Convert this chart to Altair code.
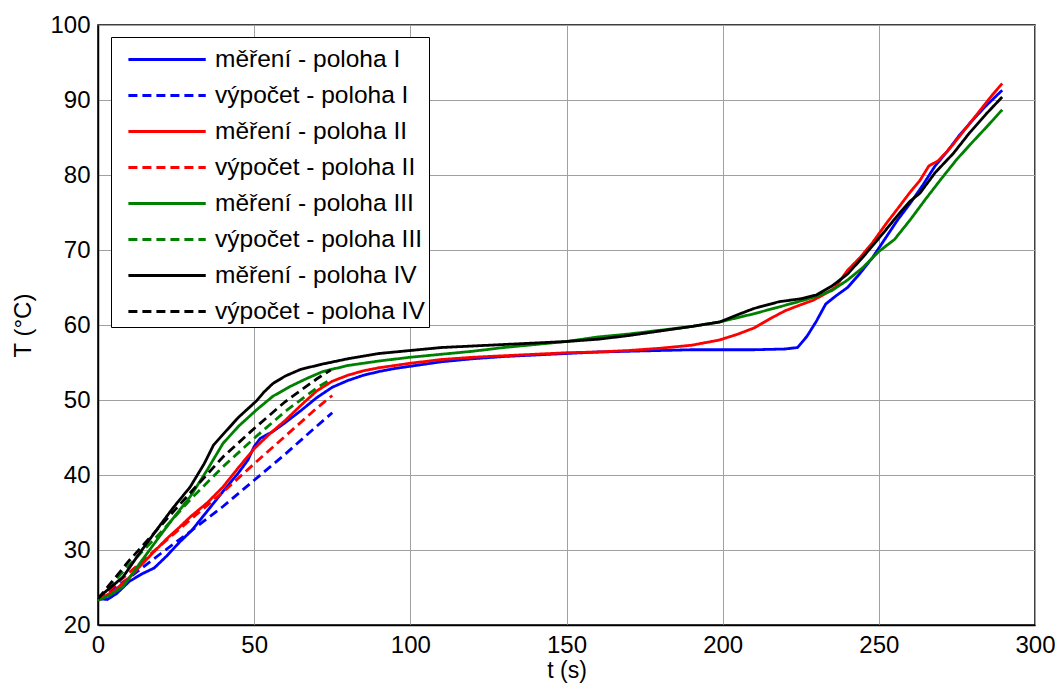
import altair as alt
import pandas as pd

# ---- data ----
names = ["měření - poloha I", "výpočet - poloha I",
         "měření - poloha II", "výpočet - poloha II",
         "měření - poloha III", "výpočet - poloha III",
         "měření - poloha IV", "výpočet - poloha IV"]
colors = ["#0000ff", "#0000ff", "#ff0000", "#ff0000",
          "#008000", "#008000", "#000000", "#000000"]

t_mer_I = [0, 3, 6, 10, 14, 18, 22, 26, 30, 35, 40, 45, 48, 50, 52, 56, 60, 65, 70, 75, 80, 85, 90, 95,
           100, 110, 120, 130, 140, 150, 160, 170, 180, 190, 200, 210, 220, 224, 227, 230, 233, 236, 240,
           244, 248, 252, 256, 260, 264, 268, 272, 276, 280, 284, 287, 289.5]
T_mer_I = [23.5, 23.4, 24.2, 25.8, 26.8, 27.6, 29.2, 31.0, 32.6, 35.2, 37.8, 40.3, 42.0, 43.8, 44.9, 45.8,
           47.0, 48.6, 50.3, 51.7, 52.6, 53.3, 53.8, 54.2, 54.5, 55.1, 55.5, 55.8, 56.0, 56.2, 56.4, 56.5,
           56.6, 56.7, 56.7, 56.7, 56.8, 57.0, 58.5, 60.5, 62.8, 63.8, 65.0, 66.9, 69.0, 71.5, 74.0, 76.2,
           78.6, 81.2, 83.2, 85.4, 87.3, 89.1, 90.3, 91.3]

t_vyp_I = [0, 10, 20, 30, 40, 50, 60, 70, 75]
T_vyp_I = [23.3, 26.3, 29.5, 32.6, 35.8, 39.3, 42.8, 46.5, 48.3]

t_mer_II = [0, 5, 10, 13.4, 18, 22, 26, 29.5, 35, 40, 45, 50, 55, 60, 65, 70, 75, 80, 85, 90, 95, 100,
            110, 120, 130, 140, 150, 160, 170, 180, 190, 199, 205, 210, 215, 220, 225, 229, 233, 236, 240,
            244, 248, 252.5, 256, 260, 263.2, 266, 269, 272, 274, 278, 282, 286, 289.5]
T_mer_II = [23.3, 24.5, 26.3, 27.8, 29.8, 31.5, 33.0, 34.4, 36.3, 38.4, 41.0, 43.5, 45.5, 47.3, 49.3,
            51.2, 52.5, 53.3, 53.9, 54.3, 54.6, 54.9, 55.4, 55.7, 55.9, 56.1, 56.3, 56.4, 56.6, 56.9, 57.3,
            58.0, 58.8, 59.6, 60.8, 61.9, 62.7, 63.3, 64.2, 65.0, 67.3, 69.0, 71.0, 73.6, 75.5, 77.7, 79.3,
            81.2, 81.9, 83.2, 84.2, 86.3, 88.4, 90.5, 92.2]

t_vyp_II = [0, 10, 20, 30, 40, 50, 60, 70, 75]
T_vyp_II = [23.3, 27.0, 30.6, 34.2, 37.7, 41.5, 45.2, 48.9, 50.6]

t_mer_III = [0, 4, 8, 13, 18.8, 24, 29.5, 35, 40, 45, 50.8, 56, 61.5, 67, 72, 80, 90, 100, 110, 120,
             130, 140, 150, 160, 170, 180, 190, 199, 210, 218, 225, 230, 235, 240, 245, 250, 255, 260,
             265, 270, 275, 280, 284.5, 289.5]
T_mer_III = [23.3, 24.0, 25.1, 28.0, 31.3, 34.2, 37.1, 40.7, 44.2, 46.5, 48.7, 50.5, 51.8, 52.9, 53.8,
             54.6, 55.2, 55.7, 56.1, 56.5, 57.0, 57.4, 57.8, 58.4, 58.8, 59.3, 59.8, 60.4, 61.5, 62.4,
             63.2, 63.8, 64.6, 66.0, 67.7, 69.8, 71.4, 74.0, 76.8, 79.5, 82.1, 84.4, 86.4, 88.7]

t_vyp_III = [0, 10, 20, 29.5, 40, 50, 60, 70, 73.5]
T_vyp_III = [23.5, 28.0, 32.3, 36.7, 41.1, 44.9, 48.5, 51.6, 52.5]

t_mer_IV = [0, 4, 8, 13, 18.8, 24, 29.5, 34, 37, 40, 45, 50.8, 53, 56, 60, 65, 72, 80, 90, 100, 110,
            120, 130, 140, 150, 160, 170, 180, 190, 199, 205, 210, 218, 225, 230, 235, 240, 245, 251.5,
            256, 260, 263.2, 268, 273.9, 279, 284.5, 289.5]
T_mer_IV = [23.6, 25.0, 26.4, 29.4, 32.7, 35.6, 38.4, 41.5, 44.0, 45.4, 47.7, 49.9, 51.0, 52.2, 53.2,
            54.1, 54.8, 55.5, 56.2, 56.6, 57.0, 57.2, 57.4, 57.6, 57.8, 58.1, 58.6, 59.2, 59.8, 60.4,
            61.4, 62.2, 63.1, 63.5, 64.0, 65.2, 66.8, 69.1, 72.3, 74.6, 76.5, 77.6, 80.3, 82.9, 85.6,
            88.2, 90.4]

t_vyp_IV = [0, 10, 20, 29.5, 40, 50, 60, 70, 74.5]
T_vyp_IV = [23.5, 28.6, 33.2, 37.6, 42.4, 46.2, 49.8, 52.8, 54.0]

series_t = [t_mer_I, t_vyp_I, t_mer_II, t_vyp_II, t_mer_III, t_vyp_III, t_mer_IV, t_vyp_IV]
series_T = [T_mer_I, T_vyp_I, T_mer_II, T_vyp_II, T_mer_III, T_vyp_III, T_mer_IV, T_vyp_IV]

rows = []
for i, (name, ts, Ts) in enumerate(zip(names, series_t, series_T)):
    for t, T in zip(ts, Ts):
        rows.append({"t": t, "T": T, "series": name, "idx": i})
df = pd.DataFrame(rows)

dashes = [[1, 0] if i % 2 == 0 else [9, 5] for i in range(8)]

FONT = "Liberation Sans"

legend_kw = dict(title=None, orient="none", legendX=13, legendY=12,
                 symbolType="M-0.3,0L4.25,0", symbolSize=1156,
                 symbolStrokeWidth=3, labelOffset=63, rowPadding=6,
                 padding=4, fillColor="white", strokeColor="black",
                 labelFontSize=24.5, labelFont=FONT, labelColor="black",
                 labelExpr="datum.label + '\u00a0\u00a0\u00a0'",
                 labelLimit=400)

chart = alt.Chart(df).mark_line(strokeWidth=2.8, clip=True).encode(
    x=alt.X("t:Q", title="t (s)",
            scale=alt.Scale(domain=[0, 300], nice=False),
            axis=alt.Axis(values=[0, 50, 100, 150, 200, 250, 300], labelPadding=8,
                          titlePadding=2, titleFontSize=23, labelFlush=False)),
    y=alt.Y("T:Q", title="T (°C)",
            scale=alt.Scale(domain=[20, 100], nice=False, zero=False),
            axis=alt.Axis(values=[20, 30, 40, 50, 60, 70, 80, 90, 100], labelPadding=8,
                          titlePadding=14, labelFlush=False)),
    color=alt.Color("series:N", scale=alt.Scale(domain=names, range=colors),
                    legend=alt.Legend(**legend_kw)),
    strokeDash=alt.StrokeDash("series:N", scale=alt.Scale(domain=names, range=dashes),
                              legend=alt.Legend(**legend_kw)),
    order=alt.Order("idx:Q"),
    detail="series:N",
).properties(
    width=937, height=600,
    background="white",
    autosize=alt.AutoSizeParams(type="none"),
    padding={"left": 90, "top": 17, "right": 20, "bottom": 58},
).configure_view(
    stroke="black", strokeWidth=1.5
).configure_axis(
    labelFont=FONT, labelFontSize=24, labelColor="black",
    titleFont=FONT, titleFontSize=24, titleFontWeight="normal", titleColor="black",
    grid=True, gridColor="#a0a0a0", gridWidth=1,
    ticks=False, domainColor="black", domainWidth=1.5,
)

chart.save("out.html", embed_options={"renderer": "svg", "actions": False})
